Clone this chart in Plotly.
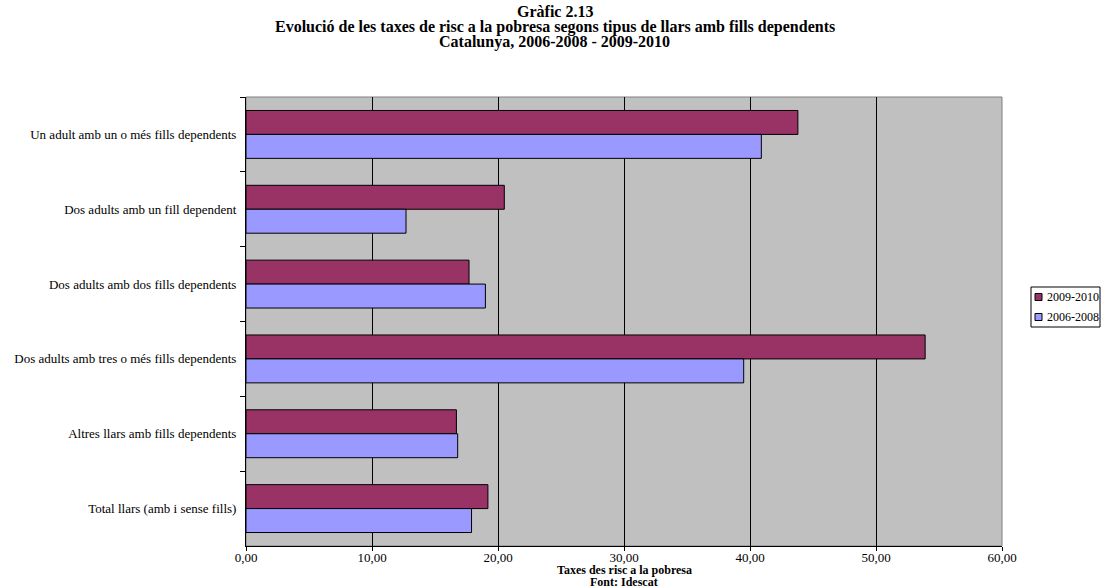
import plotly.graph_objects as go

categories = [
    "Un adult amb un o més fills dependents",
    "Dos adults amb un fill dependent",
    "Dos adults amb dos fills dependents",
    "Dos adults amb tres o més fills dependents",
    "Altres llars amb fills dependents",
    "Total llars (amb i sense fills)",
]
rate_2009_2010 = [43.8, 20.5, 17.7, 53.9, 16.7, 19.2]
rate_2006_2008 = [40.9, 12.7, 19.0, 39.5, 16.8, 17.9]

series_names = ["2009-2010", "2006-2008"]
series_colors = ["#993366", "#9999FF"]

title_lines = [
    "Gràfic 2.13",
    "Evolució de les taxes de risc a la pobresa segons tipus de llars amb fills dependents",
    "Catalunya, 2006-2008 - 2009-2010",
]
xaxis_lines = ["Taxes des risc a la pobresa", "Font: Idescat"]

SERIF = "Liberation Serif, Times New Roman, serif"
W, H = 1109, 588
L, R, T, B = 246, 1002, 97, 546  # plot area in pixels


def px_x(x):
    return (x - L) / (R - L)


def px_y(y):
    return (B - y) / (B - T)


fig = go.Figure()

# y axis is reversed, so the first trace sits on top within each group
for name, vals, col in zip(series_names, [rate_2009_2010, rate_2006_2008], series_colors):
    fig.add_trace(go.Bar(
        y=categories, x=vals, orientation="h", name=name, showlegend=False,
        marker=dict(color=col, line=dict(color="#000000", width=1)),
    ))

fig.update_layout(
    width=W, height=H,
    barmode="group",
    bargap=0.36,
    bargroupgap=0,
    separators=",.",
    paper_bgcolor="#FFFFFF",
    plot_bgcolor="#C0C0C0",
    font=dict(family=SERIF, size=13, color="#000000"),
    margin=dict(l=L, r=W - R, t=T, b=H - B),
    xaxis=dict(
        range=[0, 60], dtick=10, tickformat=".2f",
        showgrid=True, gridcolor="#000000", gridwidth=1,
        zeroline=False,
        showline=True, linecolor="#000000", linewidth=1,
        ticks="outside", ticklen=4, tickcolor="#000000",
        tickfont=dict(family=SERIF, size=13),
        ticklabelstandoff=-5,
    ),
    yaxis=dict(
        autorange="reversed",
        showgrid=False,
        showline=True, linecolor="#000000", linewidth=1,
        ticks="outside", tickson="boundaries", ticklen=5, tickcolor="#000000",
        tickfont=dict(family=SERIF, size=13),
        ticklabelstandoff=6,
    ),
)

# grey frame around the plot area
fig.add_shape(type="rect", xref="paper", yref="paper", x0=0, x1=1, y0=0, y1=1,
              line=dict(color="#808080", width=1), layer="below")

# title, three lines
for i, line in enumerate(title_lines):
    fig.add_annotation(text=f"<b>{line}</b>", xref="paper", yref="paper",
                       x=px_x(W / 2), y=px_y(11.5 + 15.5 * i), showarrow=False,
                       xanchor="center", yanchor="middle",
                       font=dict(family=SERIF, size=16))

# x axis title + source
for i, line in enumerate(xaxis_lines):
    fig.add_annotation(text=f"<b>{line}</b>", xref="paper", yref="paper",
                       x=0.5, y=px_y(570 + 11.5 * i), showarrow=False,
                       xanchor="center", yanchor="middle",
                       font=dict(family=SERIF, size=12))

# compact boxed legend at the right
fig.add_shape(type="rect", xref="paper", yref="paper",
              x0=px_x(1031), x1=px_x(1100), y0=px_y(327), y1=px_y(287),
              line=dict(color="#000000", width=1), fillcolor="#FFFFFF")
for i, (name, col) in enumerate(zip(series_names, series_colors)):
    yc = 297 + 20 * i
    fig.add_shape(type="rect", xref="paper", yref="paper",
                  x0=px_x(1035), x1=px_x(1042), y0=px_y(yc + 3.5), y1=px_y(yc - 3.5),
                  line=dict(color="#000000", width=1), fillcolor=col)
    fig.add_annotation(text=name, xref="paper", yref="paper",
                       x=px_x(1045), y=px_y(yc), showarrow=False,
                       xanchor="left", yanchor="middle",
                       font=dict(family=SERIF, size=12))

# the page has a default 8px body margin; drop it so the figure fills the window
fig.write_html("out.html", config={"displayModeBar": False},
               post_script="document.body.style.margin='0';")
